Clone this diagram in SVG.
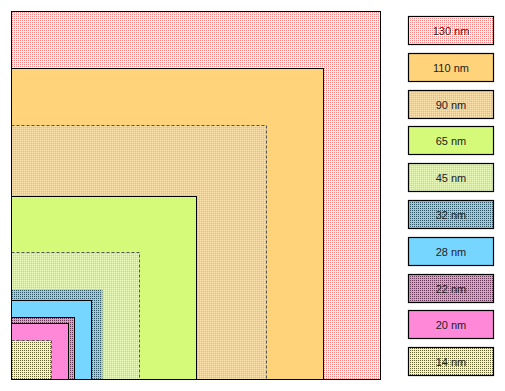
<svg xmlns="http://www.w3.org/2000/svg" width="505" height="391" viewBox="0 0 505 391">
<defs>
<pattern id="p130" width="2" height="2" patternUnits="userSpaceOnUse"><rect width="2" height="2" fill="#ffffff"/><rect width="1" height="1" fill="#ff7f7f"/></pattern>
<pattern id="p90" width="2" height="2" patternUnits="userSpaceOnUse"><rect width="2" height="2" fill="#f8cf7c"/><rect width="1" height="1" fill="#fde3ae"/><rect x="1" y="1" width="1" height="1" fill="#e9c37c"/></pattern>
<pattern id="p45" width="2" height="2" patternUnits="userSpaceOnUse"><rect width="2" height="2" fill="#d3f47e"/><rect width="1" height="1" fill="#ebfcbc"/><rect x="1" y="1" width="1" height="1" fill="#c3e37a"/></pattern>
<pattern id="p32" width="2" height="2" patternUnits="userSpaceOnUse"><rect width="2" height="2" fill="#76d6ff"/><rect width="1" height="1" fill="#000000" fill-opacity="0.6"/></pattern>
<pattern id="p22" width="2" height="2" patternUnits="userSpaceOnUse"><rect width="2" height="2" fill="#ff89d8"/><rect width="1" height="1" fill="#000000" fill-opacity="0.6"/></pattern>
<pattern id="p14" width="2" height="2" patternUnits="userSpaceOnUse"><rect width="2" height="2" fill="#fffb80"/><rect width="1" height="1" fill="#000000" fill-opacity="0.6"/></pattern>
</defs>
<style>
.s{stroke:#000;stroke-width:1}
.d{stroke:#555;stroke-width:1;stroke-dasharray:3 2}
.n{stroke:none}
.lg{stroke:#000;stroke-width:1.2}
.t{font-family:"Liberation Sans",Arial,sans-serif;font-size:11px;fill:#222222;text-anchor:middle}
</style>
<rect width="505" height="391" fill="#ffffff"/>
<g id="squares">
<g id="sq130"><rect x="11.5" y="11.5" width="369" height="368" fill="url(#p130)" class="s"/></g>
<g id="sq110"><rect x="11.5" y="68.5" width="312" height="311" fill="#fed37a" class="s"/></g>
<g id="sq90"><rect x="11.5" y="125.5" width="255" height="254" fill="url(#p90)" class="d"/></g>
<g id="sq65"><rect x="11.5" y="196.5" width="185" height="183" fill="#d5fa7a" class="s"/></g>
<g id="sq45"><rect x="11.5" y="252.5" width="128" height="127" fill="url(#p45)" class="d"/></g>
<g id="sq32"><rect x="11.5" y="289.5" width="91" height="90" fill="url(#p32)" class="n"/></g>
<g id="sq28"><rect x="11.5" y="300.5" width="80" height="79" fill="#76d6ff" class="s"/></g>
<g id="sq22"><rect x="11.5" y="317.5" width="63" height="62" fill="url(#p22)" class="s"/></g>
<g id="sq20"><rect x="11.5" y="323.5" width="57" height="56" fill="#ff89d8" class="s"/></g>
<g id="sq14"><rect x="11.5" y="340.5" width="40" height="39" fill="url(#p14)" class="d"/></g>
<g id="frame"><path d="M11.5 11.5 V379.5 H380.5" fill="none" class="s"/></g>
</g>
<g id="legend">
<g id="lg130"><rect x="408.5" y="16.5" width="85" height="28" fill="url(#p130)" class="lg"/><text class="t" fill="#222" x="451" y="34.5">130 nm</text></g>
<g id="lg110"><rect x="408.5" y="53.5" width="85" height="28" fill="#fed37a" class="lg"/><text class="t" fill="#222" x="451" y="71.5">110 nm</text></g>
<g id="lg90"><rect x="408.5" y="90.5" width="85" height="28" fill="url(#p90)" class="lg"/><text class="t" fill="#222" x="451" y="108.5">90 nm</text></g>
<g id="lg65"><rect x="408.5" y="126.5" width="85" height="28" fill="#d5fa7a" class="lg"/><text class="t" fill="#222" x="451" y="144.5">65 nm</text></g>
<g id="lg45"><rect x="408.5" y="163.5" width="85" height="28" fill="url(#p45)" class="lg"/><text class="t" fill="#222" x="451" y="181.5">45 nm</text></g>
<g id="lg32"><rect x="408.5" y="200.5" width="85" height="28" fill="url(#p32)" class="lg"/><text class="t" fill="#222" x="451" y="218.5">32 nm</text></g>
<g id="lg28"><rect x="408.5" y="237.5" width="85" height="28" fill="#76d6ff" class="lg"/><text class="t" fill="#222" x="451" y="255.5">28 nm</text></g>
<g id="lg22"><rect x="408.5" y="274.5" width="85" height="28" fill="url(#p22)" class="lg"/><text class="t" fill="#222" x="451" y="292.5">22 nm</text></g>
<g id="lg20"><rect x="408.5" y="310.5" width="85" height="28" fill="#ff89d8" class="lg"/><text class="t" fill="#222" x="451" y="328.5">20 nm</text></g>
<g id="lg14"><rect x="408.5" y="347.5" width="85" height="28" fill="url(#p14)" class="lg"/><text class="t" fill="#222" x="451" y="365.5">14 nm</text></g>
</g>
</svg>
